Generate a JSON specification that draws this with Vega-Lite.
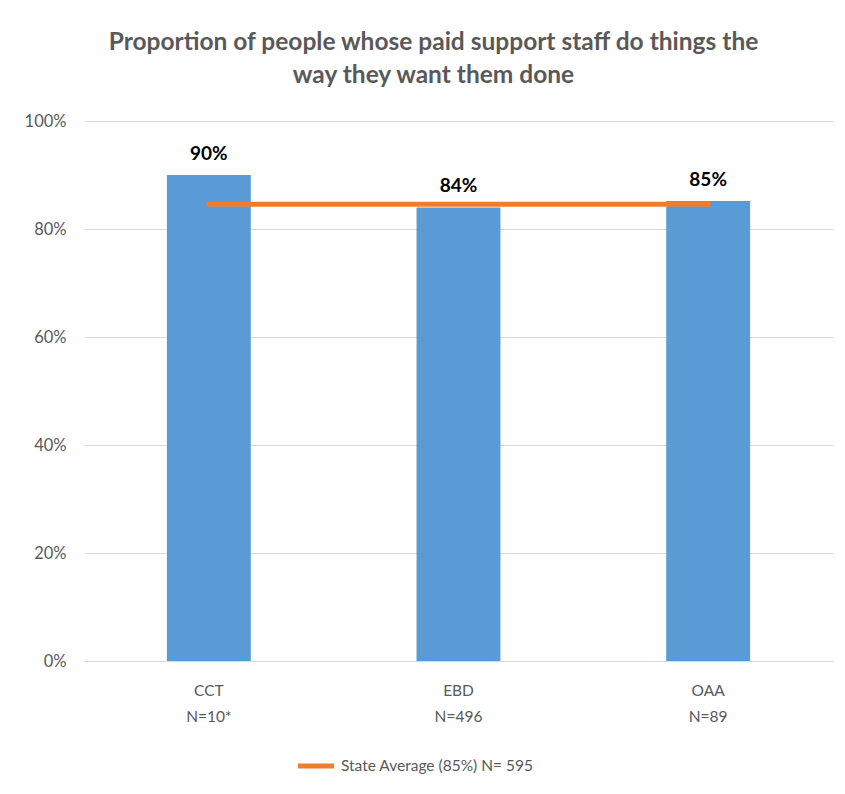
{
  "$schema": "https://vega.github.io/schema/vega-lite/v6.json",
  "width": 749,
  "height": 540,
  "padding": {"left": 24, "top": 29, "right": 12, "bottom": 10},
  "background": "white",
  "title": {
    "text": ["Proportion of people whose paid support staff do things the", "way they want them done"],
    "font": "Lato",
    "fontSize": 24.5,
    "fontWeight": "bold",
    "color": "#595959",
    "lineHeight": 33,
    "offset": 25,
    "dx": -25
  },
  "config": {"view": {"stroke": null}, "font": "Lato"},
  "datasets": {
    "bars": [
      {"label": "CCT\nN=10*", "value": 0.90},
      {"label": "EBD\nN=496", "value": 0.84},
      {"label": "OAA\nN=89", "value": 0.852}
    ],
    "avg": [
      {"label": "CCT\nN=10*", "value": 0.846, "series": "State Average (85%) N= 595"},
      {"label": "EBD\nN=496", "value": 0.846, "series": "State Average (85%) N= 595"},
      {"label": "OAA\nN=89", "value": 0.846, "series": "State Average (85%) N= 595"}
    ]
  },
  "encoding": {
    "x": {
      "field": "label",
      "type": "nominal",
      "sort": null,
      "scale": {"paddingInner": 0.664, "paddingOuter": 0.332},
      "axis": {
        "title": null,
        "labelAngle": 0,
        "labelExpr": "split(datum.label, '\\n')",
        "labelFontSize": 15.5,
        "labelColor": "#595959",
        "labelLineHeight": 26,
        "labelPadding": 22,
        "ticks": false,
        "domainColor": "#D9D9D9",
        "domainWidth": 1
      }
    },
    "y": {
      "field": "value",
      "type": "quantitative",
      "scale": {"domain": [0, 1]},
      "axis": {
        "title": null,
        "format": ".0%",
        "values": [0, 0.2, 0.4, 0.6, 0.8, 1],
        "gridColor": "#D9D9D9",
        "domain": false,
        "ticks": false,
        "labelPadding": 18,
        "labelFontSize": 16.5,
        "labelColor": "#595959"
      }
    }
  },
  "layer": [
    {
      "data": {"name": "bars"},
      "mark": {"type": "bar", "color": "#5B9BD5"}
    },
    {
      "data": {"name": "bars"},
      "mark": {"type": "text", "dy": -15, "baseline": "alphabetic", "fontSize": 19, "fontWeight": "bold", "color": "#000000"},
      "encoding": {"text": {"field": "value", "type": "quantitative", "format": ".0%"}}
    },
    {
      "data": {"name": "avg"},
      "mark": {"type": "line", "strokeWidth": 5, "strokeCap": "round"},
      "encoding": {
        "color": {
          "field": "series",
          "type": "nominal",
          "scale": {"range": ["#ED7D31"]},
          "legend": {
            "orient": "none",
            "legendX": 211,
            "legendY": 624,
            "title": null,
            "labelFontSize": 15.5,
            "labelColor": "#595959",
            "labelLimit": 0,
            "labelOffset": 4,
            "symbolType": "stroke",
            "symbolStrokeWidth": 5,
            "symbolSize": 1300
          }
        }
      }
    }
  ]
}
